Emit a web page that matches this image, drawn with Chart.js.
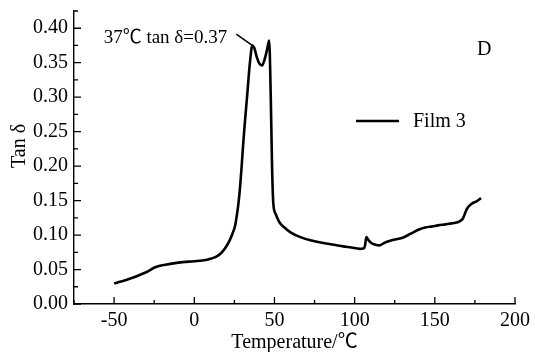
<!DOCTYPE html>
<html>
<head>
<meta charset="utf-8">
<script src="https://cdn.jsdelivr.net/npm/chart.js@4.4.1/dist/chart.umd.min.js"></script>
<style>
  html, body { margin: 0; padding: 0; background: #fff; }
  #wrap { width: 535px; height: 352px; }
</style>
</head>
<body>
<div id="wrap"><canvas id="dmaChart"></canvas></div>
<script>
// --- Data ---
const temps = [-50, -45, -38.6, -30, -24, -18, -10, 0, 5, 10.7, 14, 16.8, 19, 22, 24, 25.5, 26.5, 27.5, 28.5, 29.5, 30.5, 31.5, 32.9, 34.7, 36.2, 37.5, 39, 40.5, 42.3, 43.5, 45, 46.2, 46.7, 47.7, 48.5, 49.3, 50.7, 53, 55.9, 60, 66.2, 73, 80.6, 87, 92.9, 98, 103.2, 105.5, 106.5, 107.3, 108.5, 110.4, 113, 115.5, 118, 121.7, 126, 129.9, 135, 140.1, 144, 148.4, 152, 156.6, 161, 165.8, 167.5, 170, 173, 176, 178.8];
const tanDelta = [0.030, 0.033, 0.038, 0.046, 0.0536, 0.057, 0.060, 0.062, 0.063, 0.066, 0.069, 0.074, 0.080, 0.092, 0.103, 0.114, 0.128, 0.145, 0.168, 0.198, 0.232, 0.262, 0.300, 0.350, 0.375, 0.371, 0.358, 0.349, 0.346, 0.352, 0.365, 0.378, 0.382, 0.300, 0.200, 0.1455, 0.131, 0.119, 0.1116, 0.104, 0.097, 0.092, 0.0884, 0.086, 0.0836, 0.082, 0.080, 0.0805, 0.085, 0.097, 0.093, 0.0884, 0.086, 0.085, 0.088, 0.0913, 0.094, 0.0962, 0.102, 0.108, 0.111, 0.1126, 0.114, 0.1155, 0.117, 0.1203, 0.124, 0.138, 0.1455, 0.149, 0.1536];
const xTicks = [-50, 0, 50, 100, 150, 200];
const yTicks = [0, 0.05, 0.10, 0.15, 0.20, 0.25, 0.30, 0.35, 0.40];
const seriesName = 'Film 3';
const peakNote = '37\u2103 tan \u03b4=0.37';
const peakAt = [36.8, 0.374];

const serif = '"Liberation Serif", "Noto Sans CJK SC", "Times New Roman", serif';

// Inward tick marks, y title, annotation, panel letter and legend
const extrasPlugin = {
  id: 'extras',
  afterDatasetsDraw(chart) {
    const { ctx, chartArea: a, scales: { x, y } } = chart;
    ctx.save();
    ctx.strokeStyle = '#000';
    ctx.lineWidth = 1.3;
    ctx.beginPath();
    for (let v = -75; v <= 200; v += 25) {
      const px = x.getPixelForValue(v);
      const len = v % 50 === 0 ? 7 : 4;
      ctx.moveTo(px, a.bottom);
      ctx.lineTo(px, a.bottom - len);
    }
    for (let i = 0; i <= 17; i++) {
      const py = y.getPixelForValue(i * 0.025);
      const len = i % 2 === 0 ? 7 : 4;
      ctx.moveTo(a.left, py);
      ctx.lineTo(a.left + len, py);
    }
    ctx.stroke();

    ctx.fillStyle = '#000';
    ctx.textBaseline = 'middle';
    ctx.textAlign = 'center';
    ctx.font = '20px ' + serif;
    ctx.save();
    ctx.translate(20, 146);
    ctx.rotate(-Math.PI / 2);
    ctx.fillText('Tan \u03b4', 0, 0);
    ctx.restore();

    // peak annotation
    const ex = x.getPixelForValue(peakAt[0]);
    const ey = y.getPixelForValue(peakAt[1]);
    ctx.lineWidth = 1.6;
    ctx.beginPath();
    ctx.moveTo(ex - 17, ey - 12);
    ctx.lineTo(ex, ey);
    ctx.stroke();
    ctx.font = '19px ' + serif;
    ctx.textAlign = 'right';
    ctx.textBaseline = 'alphabetic';
    ctx.fillText(peakNote, ex - 26, 43);

    // panel letter
    ctx.font = '20px ' + serif;
    ctx.textAlign = 'left';
    ctx.fillText('D', 477, 55);

    // legend
    ctx.lineWidth = 2.6;
    ctx.beginPath();
    ctx.moveTo(356, 121);
    ctx.lineTo(399, 121);
    ctx.stroke();
    ctx.fillText(seriesName, 413, 127);
    ctx.restore();
  }
};

const points = temps.map((t, i) => ({ x: t, y: tanDelta[i] }));

new Chart(document.getElementById('dmaChart'), {
  type: 'line',
  data: {
    datasets: [{
      label: seriesName,
      data: points,
      borderColor: '#000',
      borderWidth: 2.6,
      pointRadius: 0,
      fill: false,
      cubicInterpolationMode: 'monotone'
    }]
  },
  options: {
    responsive: true,
    maintainAspectRatio: false,
    animation: false,
    layout: { padding: { top: 11, right: 15, left: 0, bottom: 0 } },
    plugins: {
      legend: { display: false },
      tooltip: { enabled: false }
    },
    scales: {
      x: {
        type: 'linear',
        min: -75,
        max: 200,
        afterBuildTicks: (s) => { s.ticks = xTicks.map(v => ({ value: v })); },
        afterFit: (s) => { s.height = 48; },
        grid: { display: false, drawTicks: false },
        border: { display: true, color: '#000', width: 1.4 },
        ticks: { color: '#000', font: { family: serif, size: 20 }, padding: 5, maxRotation: 0 },
        title: {
          display: true, text: 'Temperature/\u2103', color: '#000',
          font: { family: serif, size: 20, lineHeight: 1 }, padding: { top: 0, bottom: -1 }
        }
      },
      y: {
        min: 0,
        max: 0.425,
        afterBuildTicks: (s) => { s.ticks = yTicks.map(v => ({ value: v })); },
        afterFit: (s) => { s.width = 74; s.paddingTop = 0; s.paddingBottom = 0; },
        grid: { display: false, drawTicks: false },
        border: { display: true, color: '#000', width: 1.4 },
        ticks: {
          color: '#000', font: { family: serif, size: 20 }, padding: 6,
          callback: (v) => Number(v).toFixed(2)
        }
      }
    }
  },
  plugins: [extrasPlugin]
});
</script>
</body>
</html>
